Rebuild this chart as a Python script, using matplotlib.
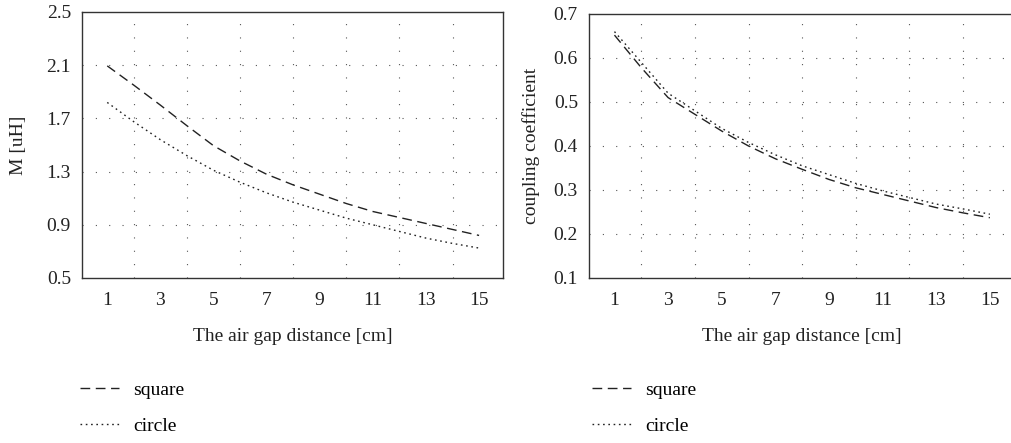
import matplotlib
matplotlib.use("Agg")
import matplotlib.pyplot as plt

plt.rcParams['font.family'] = ['Liberation Serif', 'DejaVu Serif']

gap_cm = [1, 2, 3, 4, 5, 6, 7, 8, 9, 10, 11, 12, 13, 14, 15]

m_square = [2.095, 1.95, 1.80, 1.645, 1.495, 1.38, 1.28, 1.20, 1.13, 1.06,
            1.00, 0.955, 0.91, 0.865, 0.82]
m_circle = [1.82, 1.675, 1.54, 1.42, 1.31, 1.22, 1.14, 1.07, 1.01, 0.95,
            0.90, 0.85, 0.80, 0.76, 0.725]

k_square = [0.652, 0.578, 0.51, 0.472, 0.434, 0.40, 0.371, 0.347, 0.324, 0.305,
            0.29, 0.275, 0.26, 0.248, 0.237]
k_circle = [0.66, 0.59, 0.52, 0.48, 0.44, 0.408, 0.38, 0.355, 0.335, 0.315,
            0.298, 0.283, 0.268, 0.257, 0.245]

x_ticks = [1, 3, 5, 7, 9, 11, 13, 15]
x_grid = [2, 4, 6, 8, 10, 12, 14]
m_ticks = [0.5, 0.9, 1.3, 1.7, 2.1, 2.5]
k_ticks = [0.1, 0.2, 0.3, 0.4, 0.5, 0.6, 0.7]

series_labels = ["square", "circle"]
x_label = "The air gap distance [cm]"
y_labels = ["M [uH]", "coupling coefficient"]

W, H = 1011, 443
fig = plt.figure(figsize=(W / 100, H / 100), dpi=100)

def fx(px):
    return px / W

def fy(py):
    return 1 - py / H

ax1 = fig.add_axes([fx(82), fy(278), fx(503 - 82), (278 - 12) / H])
ax2 = fig.add_axes([fx(589), fy(278), fx(1014 - 589), (278 - 14) / H])

dash_style = (0, (7, 4))
dot_style = (0, (1.2, 2.6))
grid_style = (0, (1, 11))
line_color = "#222222"
grid_color = "#555555"
FS = 14

def setup(ax, yticks, ylabel, ymin, ymax, ylabelpad):
    ax.set_xlim(0.05, 15.9)
    ax.set_ylim(ymin, ymax)
    ax.set_xticks(x_ticks)
    ax.set_xticks(x_grid, minor=True)
    ax.set_yticks(yticks)
    ax.set_yticklabels([f"{v:.1f}" for v in yticks])
    ax.tick_params(axis='both', which='both', length=0, labelsize=FS,
                   colors="#222222", pad=8)
    ax.tick_params(axis='x', pad=10)
    for sp in ax.spines.values():
        sp.set_color("#333333")
        sp.set_linewidth(1.0)
    for gx in x_grid:
        ax.axvline(gx, color=grid_color, lw=0.8, linestyle=grid_style, zorder=0)
    for gy in yticks[1:-1]:
        ax.axhline(gy, color=grid_color, lw=0.8, linestyle=grid_style, zorder=0)
    ax.set_xlabel(x_label, fontsize=FS, color="#222222", labelpad=14)
    ax.set_ylabel(ylabel, fontsize=FS, color="#222222", labelpad=ylabelpad)

setup(ax1, m_ticks, y_labels[0], 0.5, 2.5, 14)
setup(ax2, k_ticks, y_labels[1], 0.1, 0.7, 10)

ax1.plot(gap_cm, m_square, color=line_color, lw=1.0, linestyle=dash_style, label=series_labels[0])
ax1.plot(gap_cm, m_circle, color=line_color, lw=1.0, linestyle=dot_style, label=series_labels[1])
ax2.plot(gap_cm, k_square, color=line_color, lw=1.0, linestyle=dash_style, label=series_labels[0])
ax2.plot(gap_cm, k_circle, color=line_color, lw=1.0, linestyle=dot_style, label=series_labels[1])

for ax, lx in [(ax1, 80), (ax2, 592)]:
    ax.legend(loc='upper left', bbox_to_anchor=(fx(lx), fy(381)),
              bbox_transform=fig.transFigure, frameon=False, fontsize=FS,
              handlelength=2.0, handletextpad=0.75, labelspacing=0.95,
              borderpad=0, borderaxespad=0)

fig.savefig("out.png", dpi=100)
